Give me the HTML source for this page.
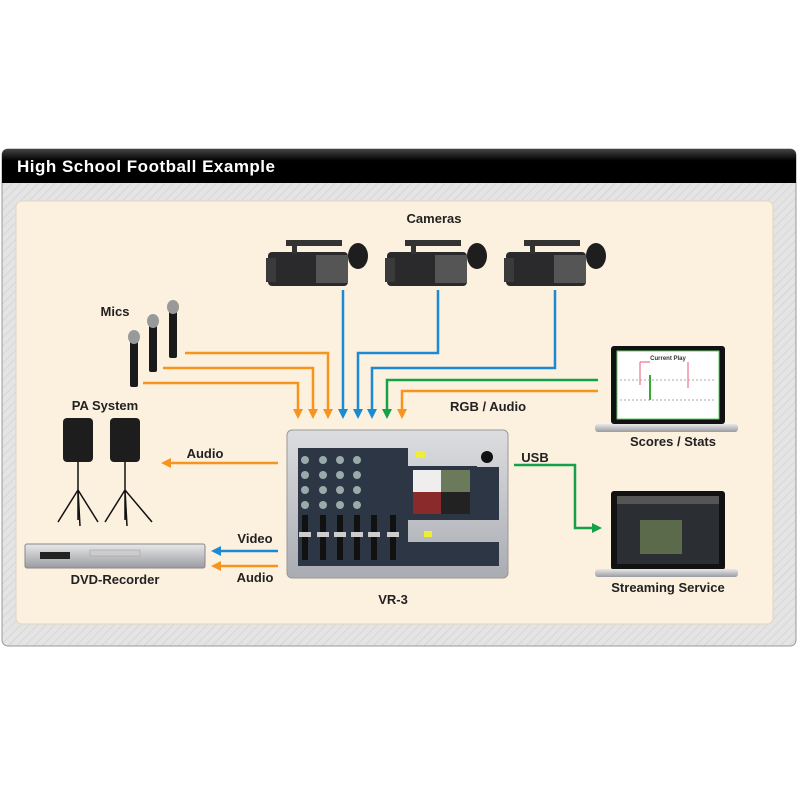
<!DOCTYPE html>
<html><head><meta charset="utf-8"><style>
html,body{margin:0;padding:0;background:#fff;}
svg{display:block;}
text{font-family:"Liberation Sans",sans-serif;font-weight:bold;}
</style></head><body>
<svg width="800" height="800" viewBox="0 0 800 800" xmlns="http://www.w3.org/2000/svg">
<defs>
<pattern id="hatch" width="6" height="6" patternUnits="userSpaceOnUse" patternTransform="rotate(45)">
<rect width="6" height="6" fill="#e4e4e4"/><line x1="0" y1="0" x2="0" y2="6" stroke="#d6d6d6" stroke-width="2"/>
</pattern>
<linearGradient id="tb" x1="0" y1="0" x2="0" y2="1"><stop offset="0" stop-color="#444"/><stop offset="0.35" stop-color="#000"/><stop offset="1" stop-color="#000"/></linearGradient>
<linearGradient id="dev" x1="0" y1="0" x2="0" y2="1"><stop offset="0" stop-color="#dcdde0"/><stop offset="1" stop-color="#a9acb2"/></linearGradient>
<linearGradient id="base" x1="0" y1="0" x2="0" y2="1"><stop offset="0" stop-color="#e8e8ea"/><stop offset="1" stop-color="#9a9ca0"/></linearGradient>
<marker id="ao" markerWidth="4" markerHeight="4" refX="2" refY="2" orient="auto" markerUnits="strokeWidth"><path d="M0,0 L4,2 L0,4 z" fill="#f7941d"/></marker>
<marker id="ab" markerWidth="4" markerHeight="4" refX="2" refY="2" orient="auto" markerUnits="strokeWidth"><path d="M0,0 L4,2 L0,4 z" fill="#1b8ad2"/></marker>
<marker id="ag" markerWidth="4" markerHeight="4" refX="2" refY="2" orient="auto" markerUnits="strokeWidth"><path d="M0,0 L4,2 L0,4 z" fill="#13a14a"/></marker>
</defs>

<!-- outer panel -->
<rect x="2" y="149" width="794" height="497" rx="6" fill="url(#hatch)" stroke="#999" stroke-width="1"/>
<path d="M2,183 V155 Q2,149 8,149 H790 Q796,149 796,155 V183 Z" fill="url(#tb)"/>
<text x="17" y="172" font-size="17" fill="#fff" textLength="258">High School Football Example</text>
<rect x="16" y="201" width="757" height="423" rx="6" fill="#fcf0df" stroke="#e0d5c6"/>

<!-- labels -->
<text x="434" y="223" font-size="13" text-anchor="middle" fill="#222">Cameras</text>
<text x="115" y="316" font-size="13" text-anchor="middle" fill="#222">Mics</text>
<text x="105" y="410" font-size="13" text-anchor="middle" fill="#222">PA System</text>
<text x="488" y="411" font-size="13" text-anchor="middle" fill="#222">RGB / Audio</text>
<text x="673" y="446" font-size="13" text-anchor="middle" fill="#222">Scores / Stats</text>
<text x="205" y="458" font-size="13" text-anchor="middle" fill="#222">Audio</text>
<text x="535" y="462" font-size="13" text-anchor="middle" fill="#222">USB</text>
<text x="255" y="543" font-size="13" text-anchor="middle" fill="#222">Video</text>
<text x="255" y="582" font-size="13" text-anchor="middle" fill="#222">Audio</text>
<text x="115" y="584" font-size="13" text-anchor="middle" fill="#222">DVD-Recorder</text>
<text x="668" y="592" font-size="13" text-anchor="middle" fill="#222">Streaming Service</text>
<text x="393" y="604" font-size="13" text-anchor="middle" fill="#222">VR-3</text>

<!-- connectors -->
<g fill="none" stroke-width="2.5">
<path d="M185,353 H328 V414" stroke="#f7941d" marker-end="url(#ao)"/>
<path d="M163,368 H313 V414" stroke="#f7941d" marker-end="url(#ao)"/>
<path d="M143,383 H298 V414" stroke="#f7941d" marker-end="url(#ao)"/>
<path d="M343,290 V414" stroke="#1b8ad2" marker-end="url(#ab)"/>
<path d="M438,290 V353 H358 V414" stroke="#1b8ad2" marker-end="url(#ab)"/>
<path d="M555,290 V368 H372 V414" stroke="#1b8ad2" marker-end="url(#ab)"/>
<path d="M598,380 H387 V414" stroke="#13a14a" marker-end="url(#ag)"/>
<path d="M598,391 H402 V414" stroke="#f7941d" marker-end="url(#ao)"/>
<path d="M278,463 H166" stroke="#f7941d" marker-end="url(#ao)"/>
<path d="M278,551 H216" stroke="#1b8ad2" marker-end="url(#ab)"/>
<path d="M278,566 H216" stroke="#f7941d" marker-end="url(#ao)"/>
<path d="M514,465 H575 V528 H597" stroke="#13a14a" marker-end="url(#ag)"/>
</g>

<!-- cameras -->
<g id="cam">
<rect x="268" y="252" width="80" height="34" rx="4" fill="#2a2a2c"/>
<rect x="316" y="255" width="32" height="28" fill="#555"/>
<rect x="286" y="240" width="56" height="6" fill="#333"/>
<rect x="292" y="244" width="5" height="10" fill="#333"/>
<ellipse cx="358" cy="256" rx="10" ry="13" fill="#1e1e1e"/>
<rect x="266" y="258" width="10" height="24" fill="#3a3a3a"/>
</g>
<use href="#cam" x="119"/>
<use href="#cam" x="238"/>

<!-- mics -->
<g fill="#1a1a1a">
<rect x="130" y="340" width="8" height="47" rx="2"/><ellipse cx="134" cy="337" rx="6" ry="7" fill="#999"/>
<rect x="149" y="325" width="8" height="47" rx="2"/><ellipse cx="153" cy="321" rx="6" ry="7" fill="#999"/>
<rect x="169" y="311" width="8" height="47" rx="2"/><ellipse cx="173" cy="307" rx="6" ry="7" fill="#999"/>
</g>

<!-- speakers -->
<g stroke="#111" stroke-width="1.5" fill="none">
<path d="M78,460 V520 M78,490 L58,522 M78,490 L98,522 M78,490 L80,526"/>
<path d="M125,460 V520 M125,490 L105,522 M125,490 L152,522 M125,490 L127,526"/>
</g>
<rect x="63" y="418" width="30" height="44" rx="4" fill="#1d1d1d"/>
<rect x="110" y="418" width="30" height="44" rx="4" fill="#1d1d1d"/>

<!-- DVD -->
<rect x="25" y="544" width="180" height="24" rx="2" fill="url(#base)" stroke="#888"/>
<rect x="40" y="552" width="30" height="7" fill="#222"/>
<rect x="90" y="550" width="50" height="6" fill="#ccc" stroke="#999" stroke-width="0.5"/>

<!-- VR-3 -->
<rect x="287" y="430" width="221" height="148" rx="5" fill="url(#dev)" stroke="#999"/>
<rect x="298" y="448" width="110" height="118" fill="#2c3644"/>
<g fill="#9aa">
<circle cx="305" cy="460" r="4"/><circle cx="323" cy="460" r="4"/><circle cx="340" cy="460" r="4"/><circle cx="357" cy="460" r="4"/>
<circle cx="305" cy="475" r="4"/><circle cx="323" cy="475" r="4"/><circle cx="340" cy="475" r="4"/><circle cx="357" cy="475" r="4"/>
<circle cx="305" cy="490" r="4"/><circle cx="323" cy="490" r="4"/><circle cx="340" cy="490" r="4"/><circle cx="357" cy="490" r="4"/>
<circle cx="305" cy="505" r="4"/><circle cx="323" cy="505" r="4"/><circle cx="340" cy="505" r="4"/><circle cx="357" cy="505" r="4"/>
</g>
<g fill="#111"><rect x="302" y="515" width="6" height="45"/><rect x="320" y="515" width="6" height="45"/><rect x="337" y="515" width="6" height="45"/><rect x="354" y="515" width="6" height="45"/><rect x="371" y="515" width="6" height="45"/><rect x="390" y="515" width="6" height="45"/></g>
<g fill="#ccc"><rect x="299" y="532" width="12" height="5"/><rect x="317" y="532" width="12" height="5"/><rect x="334" y="532" width="12" height="5"/><rect x="351" y="532" width="12" height="5"/><rect x="368" y="532" width="12" height="5"/><rect x="387" y="532" width="12" height="5"/></g>
<rect x="405" y="466" width="72" height="54" fill="#2c3644"/>
<rect x="413" y="470" width="57" height="44" fill="#6a7a5a"/>
<rect x="413" y="492" width="28" height="22" fill="#8a2a2a"/>
<rect x="441" y="492" width="29" height="22" fill="#222"/>
<rect x="413" y="470" width="28" height="22" fill="#eee"/>
<rect x="477" y="467" width="22" height="53" fill="#2c3644"/>
<circle cx="487" cy="457" r="6" fill="#111"/>
<rect x="405" y="542" width="94" height="24" fill="#2c3644"/>
<rect x="416" y="451" width="9" height="7" fill="#ee3"/>
<rect x="424" y="531" width="8" height="6" fill="#ee3"/>

<!-- laptops -->
<rect x="611" y="346" width="114" height="78" rx="3" fill="#111"/>
<rect x="617" y="351" width="102" height="68" fill="#fff" stroke="#6c6" stroke-width="1"/>
<text x="668" y="360" font-size="6" text-anchor="middle" fill="#333">Current Play</text>
<path d="M640,362 V385 M640,362 H650 M688,362 V388" stroke="#e57" fill="none"/>
<path d="M650,375 V400" stroke="#3a3" stroke-width="2" fill="none"/>
<path d="M620,380 H715 M620,400 H715" stroke="#aaa" stroke-dasharray="2,2"/>
<rect x="595" y="424" width="143" height="8" rx="3" fill="url(#base)"/>

<rect x="611" y="491" width="114" height="79" rx="3" fill="#111"/>
<rect x="617" y="496" width="102" height="68" fill="#2b2e33"/>
<rect x="640" y="520" width="42" height="34" fill="#5a6a4a"/>
<rect x="617" y="496" width="102" height="8" fill="#555"/>
<rect x="595" y="569" width="143" height="8" rx="3" fill="url(#base)"/>
</svg>
</body></html>
